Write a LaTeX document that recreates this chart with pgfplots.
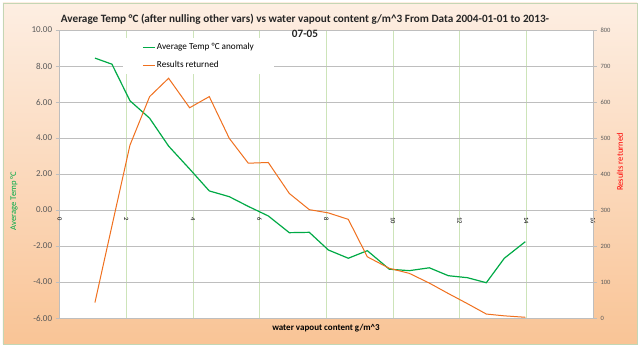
\documentclass[border=0pt]{standalone}
\usepackage{fontspec}
\setmainfont{Carlito}
\usepackage{pgfplots}
\pgfplotsset{compat=1.18}
\definecolor{tgreen}{RGB}{0,170,70}
\definecolor{torange}{RGB}{240,112,30}
\definecolor{gridgreen}{RGB}{205,228,185}
\definecolor{gridgray}{RGB}{190,190,190}
\definecolor{bgtop}{RGB}{253,238,226}
\definecolor{bgbot}{RGB}{249,196,150}
\definecolor{ticktext}{RGB}{89,89,89}
\definecolor{chartborder}{RGB}{196,214,180}
\begin{document}
\begin{tikzpicture}
\fill[white] (-59.6pt,-30pt) rectangle (580.4pt,318pt);
\shade[top color=bgtop, bottom color=bgbot] (-56.6pt,-26pt) rectangle (577.4pt,315pt);
\draw[chartborder, line width=0.8pt] (-56.6pt,-26pt) rectangle (577.4pt,315pt);
\begin{axis}[
  scale only axis, width=533.4pt, height=288pt,
  xmin=0, xmax=16, ymin=-6, ymax=10,
  xtick={0,2,...,16}, ytick={-6,-4,...,10},
  axis x line*=middle, axis y line*=left,
  hide obscured x ticks=false,
  axis line style={gridgray, line width=0.8pt},
  axis background/.style={fill=white},
  xmajorgrids, ymajorgrids,
  x grid style={gridgreen, line width=0.8pt},
  y grid style={gridgray, line width=0.8pt},
  xtick style={draw=none},
  ytick style={gridgray, line width=0.8pt},
  tick align=outside, major tick length=4pt,
  /pgf/number format/assume math mode=true,
  yticklabel style={font=\fontsize{9}{10}\selectfont, text=ticktext,
    /pgf/number format/fixed, /pgf/number format/fixed zerofill,
    /pgf/number format/precision=2},
  xticklabel style={font=\fontsize{6.5}{8}\selectfont, text=black, rotate=-90, anchor=west, yshift=0pt},
]
\addplot[tgreen, line width=1.2pt] coordinates {
(1.06,8.44)(1.57,8.10)(2.11,6.07)(2.70,5.10)(3.27,3.55)(3.90,2.28)(4.49,1.06)(5.09,0.74)(5.66,0.20)(6.26,-0.33)(6.89,-1.26)(7.49,-1.24)(8.06,-2.22)(8.66,-2.68)(9.23,-2.26)(9.89,-3.29)(10.49,-3.37)(11.09,-3.21)(11.66,-3.65)(12.23,-3.76)(12.80,-4.04)(13.34,-2.68)(13.97,-1.76)
};
\end{axis}
\begin{axis}[
  scale only axis, width=533.4pt, height=288pt,
  xmin=0, xmax=16, ymin=0, ymax=800,
  ytick={0,100,...,800},
  axis x line=none, axis y line*=right,
  axis line style={gridgray, line width=0.8pt},
  ytick style={gridgray, line width=0.8pt},
  tick align=outside, major tick length=4pt,
  /pgf/number format/assume math mode=true,
  yticklabel style={font=\fontsize{6.5}{8}\selectfont, text=ticktext},
  legend cell align=left,
  legend image code/.code={\draw[#1] (0pt,0pt) -- (12pt,0pt);},
  legend style={at={(0.119,0.972)}, anchor=north west, draw=none, fill=white,
    font=\fontsize{9.2}{11}\selectfont, inner xsep=19pt, inner ysep=3pt, row sep=6pt,
    nodes={inner xsep=1.5pt}},
]
\addlegendimage{tgreen, line width=1.2pt}
\addlegendentry{Average Temp °C anomaly}
\addplot[torange, line width=1pt] coordinates {
(1.06,43)(1.57,256)(2.11,480)(2.70,615)(3.27,666)(3.90,584)(4.49,615)(5.09,499)(5.66,430)(6.26,432)(6.89,346)(7.49,301)(8.06,292)(8.66,274)(9.23,170)(9.89,138)(10.49,124)(11.09,97)(11.66,68)(12.23,40)(12.80,11)(13.34,6)(13.97,2)
};
\addlegendentry{Results returned}
\end{axis}
\node[align=center, font=\bfseries\fontsize{11.2}{15}\selectfont, text={rgb,255:red,38;green,38;blue,38}] at (245.4pt,292.5pt)
  {Average Temp °C (after nulling other vars) vs water vapout content g/m\^{}3 From Data 2004-01-01 to 2013-\\07-05};
\node[font=\bfseries\fontsize{9}{10}\selectfont] at (266.4pt,-10pt) {water vapout content g/m\^{}3};
\node[rotate=90, font=\fontsize{8.6}{9}\selectfont, text=tgreen] at (-45.6pt,117pt) {Average Temp °C};
\node[rotate=90, font=\fontsize{8.6}{9}\selectfont, text=red] at (560.4pt,156pt) {Results returned};
\end{tikzpicture}
\end{document}
